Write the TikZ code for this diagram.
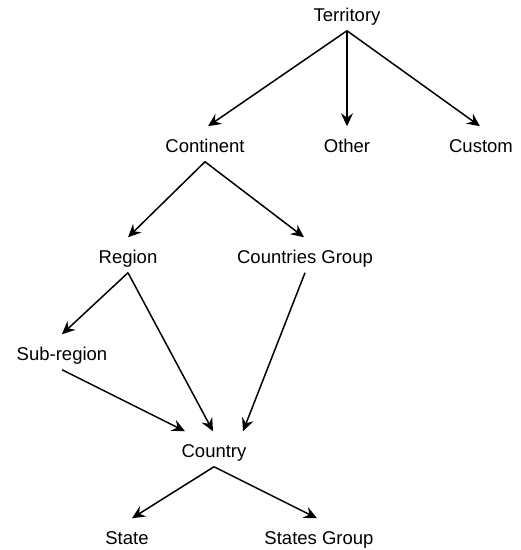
\documentclass[tikz,border=0pt]{standalone}
\usepackage{fontspec}
\setmainfont{Liberation Sans}
\usepackage{tikz}
\usetikzlibrary{arrows.meta,positioning}

\tikzset{
  lbl/.style={anchor=base,inner xsep=0pt,inner ysep=4pt,
              text height=21.6pt,text depth=4.4pt,
              font=\fontsize{18.5}{22}\selectfont}
}

\begin{document}
\begin{tikzpicture}[->,>={Stealth[length=13pt,width=12pt,inset=4.5pt]},
                    x=1pt,y=-1pt,line width=1.5pt]
  \useasboundingbox (0,0) rectangle (521,550);

  \node[lbl] (terr)    at (347,21.6)  {Territory};
  \node[lbl] (cont)    at (205,152.6) {Continent};
  \node[lbl] (other)   at (347,152.6) {Other};
  \node[lbl] (custom)  at (481,152.6) {Custom};
  \node[lbl] (region)  at (128,263.6) {Region};
  \node[lbl] (cgroup)  at (305,263.6) {Countries Group};
  \node[lbl] (subreg)  at (62,360.6)  {Sub-region};
  \node[lbl] (country) at (214,457.6) {Country};
  \node[lbl] (state)   at (127,544.6) {State};
  \node[lbl] (sgroup)  at (319,544.6) {States Group};

  \path (terr.south)    edge ([xshift=3pt]cont.north)
                        edge (other.north)
                        edge ([xshift=-1pt]custom.north)
        (cont.south)    edge (region.north)
                        edge ([xshift=-1pt]cgroup.north)
        (region.south)  edge (subreg.north)
                        edge ([xshift=-1pt]country.north)
        (cgroup.south)  edge ([xshift=29pt]country.north)
        (subreg.south)  edge ([xshift=-29pt]country.north)
        (country.south) edge ([xshift=5pt]state.north)
                        edge ([xshift=-2pt]sgroup.north);
\end{tikzpicture}
\end{document}
